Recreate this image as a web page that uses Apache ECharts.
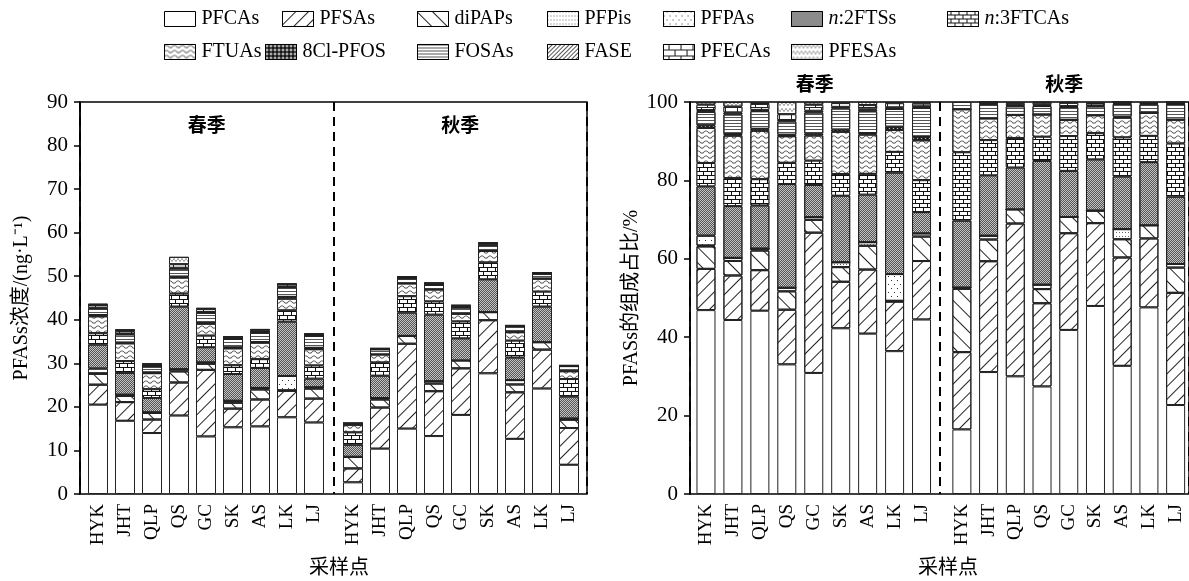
<!DOCTYPE html>
<html><head><meta charset="utf-8">
<script src="https://cdn.jsdelivr.net/npm/echarts@6/dist/echarts.min.js"></script>
<style>html,body{margin:0;padding:0;background:#fff}#c{width:1189px;height:581px}</style>
</head><body><div id="c"></div><script>
const FONT = "'Liberation Serif','Noto Sans CJK SC',serif";

const categories = ['HYK','JHT','QLP','QS','GC','SK','AS','LK','LJ'];
const seasons = ['春季','秋季'];
const seriesNames = ['PFCAs','PFSAs','diPAPs','PFPis','PFPAs','n:2FTSs','n:3FTCAs','FTUAs','8Cl-PFOS','FOSAs','FASE','PFECAs','PFESAs'];
const concTicks = [0,10,20,30,40,50,60,70,80,90];
const pctTicks = [0,20,40,60,80,100];

// spring concentrations (ng/L)
const PFCAs_sp   = [20.5, 16.8, 14.0, 18.0, 13.2, 15.3, 15.5, 17.6, 16.4];
const PFSAs_sp   = [4.6, 4.3, 3.1, 7.6, 15.3, 4.3, 6.2, 6.1, 5.5];
const diPAPs_sp  = [2.5, 1.4, 1.5, 2.55, 1.4, 1.35, 2.3, 0.1, 2.3];
const PFPis_sp   = [0.1, 0.3, 0.15, 0.5, 0.3, 0.45, 0.35, 0, 0.3];
const PFPAs_sp   = [1.1, 0, 0, 0, 0, 0, 0, 3.3, 0];
const n2FTSs_sp  = [5.5, 5.0, 3.3, 14.4, 3.5, 6.15, 4.6, 12.5, 2.0];
const n3FTCAs_sp = [2.6, 2.7, 2.0, 2.95, 2.65, 2.0, 2.0, 2.55, 3.0];
const FTUAs_sp   = [3.9, 4.1, 3.7, 3.7, 2.75, 3.9, 3.8, 2.7, 3.75];
const Cl8PFOS_sp = [0.3, 0.15, 0.15, 0.2, 0.2, 0.2, 0.15, 0.4, 0.3];
const FOSAs_sp   = [1.5, 1.9, 1.35, 1.85, 2.3, 1.95, 2.1, 2.2, 2.75];
const FASE_sp    = [0.2, 0.2, 0.1, 0.2, 0.2, 0.15, 0.2, 0.2, 0.15];
const PFECAs_sp  = [0.6, 0.55, 0.45, 0.8, 0.65, 0.35, 0.4, 0.5, 0.25];
const PFESAs_sp  = [0.3, 0.45, 0.15, 1.7, 0.3, 0.1, 0.3, 0.15, 0.15];

// autumn concentrations (ng/L)
const PFCAs_au   = [2.67, 10.4, 15.0, 13.3, 18.15, 27.7, 12.65, 24.2, 6.7];
const PFSAs_au   = [3.2, 9.45, 19.5, 10.3, 10.7, 12.2, 10.7, 8.95, 8.45];
const diPAPs_au  = [2.62, 1.85, 1.8, 1.75, 1.8, 1.85, 1.8, 1.7, 1.9];
const PFPis_au   = [0.05, 0.33, 0, 0.55, 0, 0, 1.0, 0, 0.27];
const PFPAs_au   = [0, 0, 0, 0, 0, 0, 0, 0, 0];
const n2FTSs_au  = [2.77, 5.15, 5.35, 15.3, 5.1, 7.55, 5.2, 8.2, 5.07];
const n3FTCAs_au = [2.83, 3.0, 3.75, 3.0, 3.85, 3.85, 3.85, 3.4, 4.0];
const FTUAs_au   = [1.78, 1.85, 2.95, 2.75, 1.8, 2.65, 1.95, 3.0, 1.8];
const Cl8PFOS_au = [0, 0, 0, 0, 0, 0, 0.1, 0, 0];
const FOSAs_au   = [0.3, 1.2, 1.1, 1.05, 1.4, 1.3, 1.25, 1.1, 1.18];
const FASE_au    = [0, 0.07, 0.15, 0.15, 0.12, 0.15, 0.1, 0.15, 0.05];
const PFECAs_au  = [0, 0.13, 0.25, 0.25, 0.35, 0.35, 0.1, 0.15, 0.1];
const PFESAs_au  = [0, 0, 0.15, 0.1, 0.1, 0.15, 0, 0, 0];

const spring = [PFCAs_sp,PFSAs_sp,diPAPs_sp,PFPis_sp,PFPAs_sp,n2FTSs_sp,n3FTCAs_sp,FTUAs_sp,Cl8PFOS_sp,FOSAs_sp,FASE_sp,PFECAs_sp,PFESAs_sp];
const autumn = [PFCAs_au,PFSAs_au,diPAPs_au,PFPis_au,PFPAs_au,n2FTSs_au,n3FTCAs_au,FTUAs_au,Cl8PFOS_au,FOSAs_au,FASE_au,PFECAs_au,PFESAs_au];

function totals(groups){ return categories.map((c,i)=>groups.reduce((s,a)=>s+a[i],0)); }
function shares(groups){ const t = totals(groups); return groups.map(a=>a.map((v,i)=>v/t[i]*100)); }
const springPct = shares(spring), autumnPct = shares(autumn);

// fill styles
const wave = 'path://M0,2 C1.5,0 3.5,0 5,2 C6.5,4 8.5,4 10,2 L10,3 C8.5,5 6.5,5 5,3 C3.5,1 1.5,1 0,3 Z';
const zig = 'path://M0,4 L2.5,0 L5,4 L7.5,0 L10,4 L10,5 L7.5,1 L5,5 L2.5,1 L0,5 Z';
const styles = [
  {color:'#fff'},
  {color:'#fff', decal:{symbol:'rect',symbolSize:1,color:'#222',dashArrayX:[1,0],dashArrayY:[1,8],rotation:-Math.PI/4}},
  {color:'#fff', decal:{symbol:'rect',symbolSize:1,color:'#222',dashArrayX:[1,0],dashArrayY:[1,10],rotation:Math.PI/4}},
  {color:'#fff', decal:{symbol:'rect',symbolSize:1,color:'#666',dashArrayX:[1,2],dashArrayY:[1,3]}},
  {color:'#fff', decal:{symbol:'rect',symbolSize:1,color:'#333',dashArrayX:[[1,5],[0,3,1,2]],dashArrayY:[1,3]}},
  {color:'#c4c4c4', decal:{symbol:'rect',symbolSize:1,color:'#555',dashArrayX:[[1,1],[0,1,1,0]],dashArrayY:[1,0]}},
  {color:'#fff', decal:{symbol:'rect',symbolSize:1,color:'#fff',backgroundColor:'#111',dashArrayX:[[7,1],[3,1,4,0]],dashArrayY:[3,1]}},
  {color:'#fff', decal:{symbol:wave,symbolSize:1,color:'#333',dashArrayX:[8,0],dashArrayY:[4,1]}},
  {color:'#111', decal:{symbol:'diamond',symbolSize:1,color:'#fff',dashArrayX:[3,1],dashArrayY:[3,1]}},
  {color:'#fff', decal:{symbol:'rect',symbolSize:1,color:'#555',dashArrayX:[1,0],dashArrayY:[1,2]}},
  {color:'#fff', decal:{symbol:'rect',symbolSize:1,color:'#555',dashArrayX:[1,0],dashArrayY:[1,2],rotation:-Math.PI/4}},
  {color:'#fff', decal:{symbol:'rect',symbolSize:1,color:'#fff',backgroundColor:'#222',dashArrayX:[[11,1],[5,1,6,0]],dashArrayY:[5,1]}},
  {color:'#fff', decal:{symbol:zig,symbolSize:1,color:'#333',dashArrayX:[8,0],dashArrayY:[4,2]}}
];

const legendPos = [[164,9],[282,9],[417,9],[547,9],[663,9],[791,9],[947,9],
                   [164,42],[265,42],[417,42],[547,42],[663,42],[791,42]];

const axisText = {fontFamily:FONT, fontSize:19, color:'#000'};
const catX = (gi)=>({type:'category',gridIndex:gi,data:categories,axisLine:{show:false},axisTick:{show:false},
  axisLabel:{rotate:90,margin:10,...axisText}});
const hiddenY = (gi,max)=>({type:'value',gridIndex:gi,min:0,max:max,show:false});

const series = [];
function addSet(arrs, xi, stack, bw){
  arrs.forEach((a,k)=>{
    series.push({type:'bar',name:seriesNames[k],xAxisIndex:xi,yAxisIndex:xi,stack:stack,barWidth:bw,
      data:a, animation:false, emphasis:{disabled:true},
      itemStyle:Object.assign({borderColor:'#222',borderWidth:1}, styles[k])});
  });
}
addSet(spring,1,'a',20);
addSet(autumn,2,'b',20);
addSet(springPct,4,'c',19);
addSet(autumnPct,5,'d',19);

const legends = seriesNames.map((n,k)=>({
  data:[n], left:legendPos[k][0], top:legendPos[k][1], padding:0, itemWidth:31, itemHeight:15, itemGap:0,
  selectedMode:false, icon:'rect',
  itemStyle:{borderColor:'#000',borderWidth:1},
  textStyle:{fontFamily:FONT,fontSize:20,color:'#000',padding:[0,0,0,1],rich:{it:{fontFamily:FONT,fontSize:20,fontStyle:'italic',color:'#000'}}},
  formatter: nm => nm.indexOf('n:')===0 ? '{it|n}'+nm.slice(1) : nm
}));

const titleStyle = {fontFamily:FONT,fontSize:20,fontWeight:'normal',color:'#000'};
const option = {
  backgroundColor:'#fff',
  animation:false,
  legend: legends,
  title:[
    {text:'采样点',left:334,top:554,textAlign:'center',textStyle:titleStyle},
    {text:'采样点',left:943,top:554,textAlign:'center',textStyle:titleStyle}
  ],
  grid:[
    {left:80,top:102,width:507,height:392,show:true,borderColor:'#000',borderWidth:1.5,backgroundColor:'transparent'},
    {left:84.5,top:102,width:243,height:392},
    {left:339.5,top:102,width:243,height:392},
    {left:690,top:102,width:506,height:392,show:true,borderColor:'#000',borderWidth:1.5,backgroundColor:'transparent'},
    {left:692.5,top:102,width:242.5,height:392},
    {left:948.5,top:102,width:242.5,height:392}
  ],
  xAxis:[
    {type:'category',gridIndex:0,data:seasons,position:'top',axisLine:{show:false},axisTick:{show:false},
      axisLabel:{inside:true,margin:16,fontFamily:FONT,fontSize:19,fontWeight:'bold',color:'#000'},
      splitLine:{show:true,lineStyle:{color:'#000',width:2,type:[9,6]}}},
    catX(1), catX(2),
    {type:'category',gridIndex:3,data:seasons,position:'top',axisLine:{show:false},axisTick:{show:false},
      axisLabel:{margin:6,fontFamily:FONT,fontSize:19,fontWeight:'bold',color:'#000'},
      splitLine:{show:true,lineStyle:{color:'#000',width:2,type:[9,6]}}},
    catX(4), catX(5)
  ],
  yAxis:[
    {type:'value',gridIndex:0,min:concTicks[0],max:concTicks[concTicks.length-1],interval:concTicks[1]-concTicks[0],
      axisLine:{show:true,lineStyle:{color:'#000',width:1.5}},axisTick:{show:true,length:6,lineStyle:{color:'#000',width:1.5}},
      splitLine:{show:false},axisLabel:{margin:12,fontFamily:FONT,fontSize:21,color:'#000'},
      name:'PFASs浓度/(ng·L⁻¹)',nameLocation:'middle',nameRotate:90,nameGap:48,nameTextStyle:{fontFamily:FONT,fontSize:20,color:'#000'}},
    hiddenY(1,90), hiddenY(2,90),
    {type:'value',gridIndex:3,min:pctTicks[0],max:pctTicks[pctTicks.length-1],interval:pctTicks[1]-pctTicks[0],
      axisLine:{show:true,lineStyle:{color:'#000',width:1.5}},axisTick:{show:true,length:6,lineStyle:{color:'#000',width:1.5}},
      splitLine:{show:false},axisLabel:{margin:12,fontFamily:FONT,fontSize:21,color:'#000'},
      name:'PFASs的组成占比/%',nameLocation:'middle',nameRotate:90,nameGap:48,nameTextStyle:{fontFamily:FONT,fontSize:20,color:'#000'}},
    hiddenY(4,100), hiddenY(5,100)
  ],
  series: series
};
const chart = echarts.init(document.getElementById('c'), null, {renderer:'canvas'});
chart.setOption(option);
</script></body></html>
